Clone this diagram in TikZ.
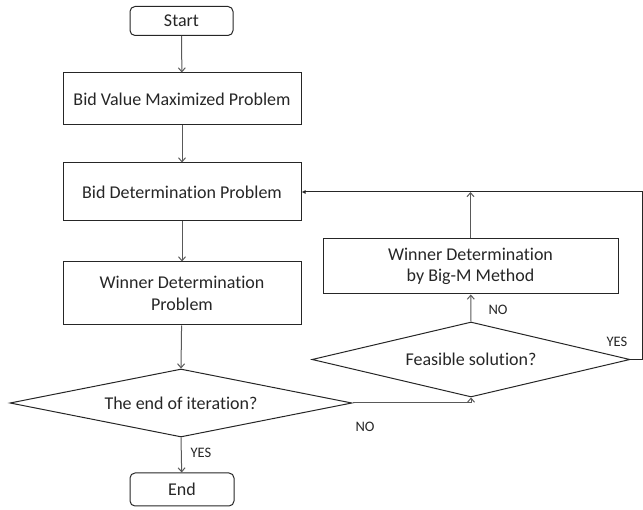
\documentclass[tikz,border=0pt]{standalone}
\usepackage{fontspec}
\setmainfont{Carlito}[Ligatures=NoCommon]
\usetikzlibrary{shapes.geometric,arrows.meta}
\begin{document}
\begin{tikzpicture}[x=1pt,y=-1pt,
  every node/.style={font=\fontsize{18}{21.5}\selectfont, text=black!85, align=center},
  box/.style={draw=black!85, line width=1pt, rectangle, inner sep=0pt},
  term/.style={box, rounded corners=5pt},
  dec/.style={draw=black!85, line width=1pt, diamond, inner sep=0pt},
  arr/.style={draw=black!65, line width=1pt, -{Straight Barb[length=4pt,width=7pt]}},
  fbl/.style={draw=black!85, line width=1pt},
  lbl/.style={font=\fontsize{14.5}{17}\selectfont}]
\useasboundingbox (0,0) rectangle (643,510);
\node[term, minimum width=103pt, minimum height=29pt] (start) at (181.5,21) {Start};
\node[box, minimum width=238pt, minimum height=52pt] (bvm) at (182,99) {Bid Value Maximized Problem};
\node[box, minimum width=238pt, minimum height=58pt] (bdp) at (182,192) {Bid Determination Problem};
\node[box, minimum width=238pt, minimum height=63pt] (wdp) at (182,293.5) {Winner Determination\\Problem};
\node[dec, minimum width=342pt, minimum height=68pt] (endit) at (181,403) {};
\node at (endit.center) {The end of iteration?};
\node[term, minimum width=104pt, minimum height=33pt] (end) at (182,489.5) {End};
\node[box, minimum width=295pt, minimum height=55pt] (bigm) at (470.5,266.5) {Winner Determination\\by Big-M Method};
\node[dec, minimum width=318pt, minimum height=75pt] (feas) at (471,359.5) {};
\node at (feas.center) {Feasible solution?};
\coordinate (rtop) at (642,192);
\coordinate (rbot) at (642,359.5);
\coordinate (join) at (bigm.north |- bdp.east);

\draw[arr] (start) -- (bvm);
\draw[arr] (bvm) -- (bdp);
\draw[arr] (bdp) -- (wdp);
\draw[arr] (wdp) -- (endit.north);
\draw[arr] (endit.south) -- (end);
\draw[arr] (endit.east) -| (feas.south);
\draw[arr] (feas.north) -- (bigm);
\draw[arr] (bigm) -- (join);
\draw[fbl, -{Latex[length=4pt,width=4pt]}] (feas.east) -- (rbot) -- (rtop) -- (bdp.east);

\node[lbl, anchor=west] (yes1) at (187,453) {YES};
\node[lbl] (no1) at (365,427) {NO};
\node[lbl] (no2) at (498,310) {NO};
\node[lbl] (yes2) at (617,342) {YES};
\end{tikzpicture}
\end{document}
